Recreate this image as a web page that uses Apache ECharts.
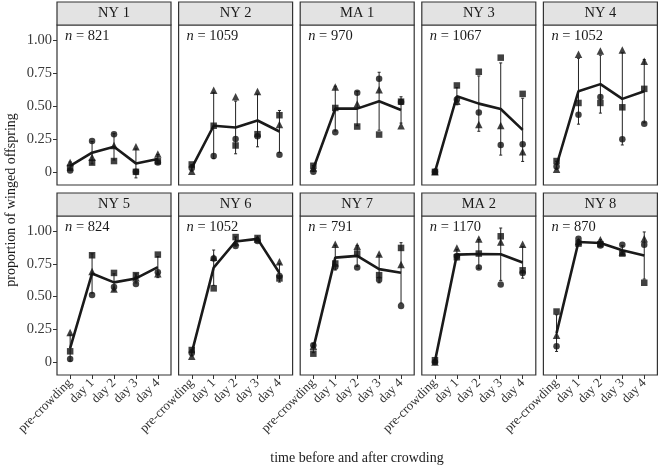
<!DOCTYPE html>
<html>
<head>
<meta charset="utf-8">
<script src="https://cdn.jsdelivr.net/npm/echarts@6/dist/echarts.min.js"></script>
<style>
html,body{margin:0;padding:0;background:#fff;}
#chart{width:659px;height:471px;}
</style>
</head>
<body>
<div id="chart"></div>
<script>
// ---- data ----
const categories = ['pre-crowding', 'day 1', 'day 2', 'day 3', 'day 4'];
const panels = ['NY 1', 'NY 2', 'MA 1', 'NY 3', 'NY 4', 'NY 5', 'NY 6', 'NY 7', 'MA 2', 'NY 8'];
const nValues = [821, 1059, 970, 1067, 1052, 824, 1052, 791, 1170, 870];
const yTicks = [0, 0.25, 0.5, 0.75, 1];
const yTickLabels = ['0', '0.25', '0.50', '0.75', '1.00'];

const circleVals = [
  [0.01, 0.235, 0.286, 0.0, 0.07],
  [0.03, 0.12, 0.25, 0.27, 0.13],
  [0.0, 0.30, 0.60, 0.707, 0.53],
  [0.0, 0.55, 0.45, 0.204, 0.21],
  [0.04, 0.434, 0.569, 0.248, 0.365],
  [0.023, 0.511, 0.572, 0.595, 0.686],
  [0.068, 0.79, 0.886, 0.924, 0.656],
  [0.127, 0.727, 0.722, 0.628, 0.428],
  [0.0, 0.81, 0.722, 0.592, 0.68],
  [0.119, 0.942, 0.89, 0.896, 0.896]
];
const squareVals = [
  [0.03, 0.07, 0.082, 0.0, 0.08],
  [0.056, 0.35, 0.20, 0.286, 0.43],
  [0.046, 0.485, 0.344, 0.283, 0.533],
  [0.0, 0.656, 0.76, 0.867, 0.592],
  [0.082, 0.523, 0.523, 0.49, 0.63],
  [0.081, 0.815, 0.68, 0.663, 0.82],
  [0.091, 0.562, 0.954, 0.947, 0.638],
  [0.063, 0.752, 0.828, 0.663, 0.871],
  [0.013, 0.80, 0.828, 0.96, 0.70],
  [0.385, 0.904, 0.90, 0.828, 0.605]
];
const triangleVals = [
  [0.07, 0.11, 0.20, 0.19, 0.135],
  [0.005, 0.62, 0.57, 0.61, 0.36],
  [0.03, 0.645, 0.516, 0.623, 0.35],
  [0.0, 0.536, 0.36, 0.352, 0.153],
  [0.02, 0.893, 0.918, 0.926, 0.84],
  [0.225, 0.69, 0.557, 0.643, 0.673],
  [0.043, 0.80, 0.916, 0.94, 0.765],
  [0.119, 0.90, 0.884, 0.825, 0.744],
  [0.0, 0.871, 0.939, 0.916, 0.90],
  [0.203, 0.92, 0.934, 0.84, 0.942]
];
const meanVals = [
  [0.045, 0.145, 0.19, 0.064, 0.097],
  [0.03, 0.35, 0.337, 0.39, 0.306],
  [0.025, 0.48, 0.48, 0.536, 0.47],
  [0.0, 0.574, 0.518, 0.477, 0.319],
  [0.05, 0.612, 0.666, 0.554, 0.612],
  [0.106, 0.676, 0.608, 0.638, 0.724],
  [0.07, 0.72, 0.92, 0.94, 0.68],
  [0.105, 0.797, 0.81, 0.709, 0.681],
  [0.005, 0.82, 0.825, 0.823, 0.76],
  [0.22, 0.916, 0.909, 0.853, 0.813]
];
const sdVals = [
  [0.03, 0.085, 0.10, 0.11, 0.035],
  [0.025, 0.25, 0.20, 0.20, 0.16],
  [0.023, 0.17, 0.13, 0.22, 0.10],
  [0.0, 0.065, 0.21, 0.35, 0.24],
  [0.03, 0.25, 0.22, 0.35, 0.24],
  [0.10, 0.15, 0.065, 0.035, 0.08],
  [0.025, 0.135, 0.035, 0.012, 0.07],
  [0.035, 0.095, 0.08, 0.105, 0.23],
  [0.008, 0.04, 0.11, 0.20, 0.12],
  [0.14, 0.02, 0.025, 0.035, 0.18]
];

// ---- layout ----
const FONT = '"Liberation Serif", "DejaVu Serif", serif';
const panelLeft0 = 57, panelStep = 121.6, panelW = 114;
const rowTop = [25, 216], rowH = [160, 159];
const stripH = 23;

const chart = echarts.init(document.getElementById('chart'), null, {renderer: 'canvas'});
const grids = [], xAxes = [], yAxes = [], series = [], graphics = [];

panels.forEach((name, i) => {
  const col = i % 5, row = Math.floor(i / 5);
  const left = panelLeft0 + col * panelStep;
  const top = rowTop[row];
  grids.push({left: left, top: top, width: panelW, height: rowH[row],
    show: true, borderColor: '#333', borderWidth: 1.2, backgroundColor: '#fff', containLabel: false});
  xAxes.push({
    type: 'value', gridIndex: i, min: -0.6, max: 4.6, position: 'bottom',
    axisLine: {show: false, onZero: false}, splitLine: {show: false},
    axisTick: {show: row === 1, length: 4, lineStyle: {color: '#333'}, customValues: [0, 1, 2, 3, 4]},
    axisLabel: {show: row === 1, rotate: 45, margin: 6, fontFamily: FONT, fontSize: 13, color: '#333',
      customValues: [0, 1, 2, 3, 4], formatter: v => categories[Math.round(v)]}
  });
  yAxes.push({
    type: 'value', gridIndex: i, min: -0.1, max: 1.115, position: 'left',
    axisLine: {show: false, onZero: false}, splitLine: {show: false},
    axisTick: {show: col === 0, length: 4, lineStyle: {color: '#333'}, customValues: yTicks},
    axisLabel: {show: col === 0, margin: 5, fontFamily: FONT, fontSize: 14.5, color: '#3a3a3a',
      customValues: yTicks, formatter: v => yTickLabels[yTicks.indexOf(v)]}
  });
  // error bars
  series.push({
    type: 'custom', xAxisIndex: i, yAxisIndex: i, z: 2, silent: true,
    data: meanVals[i].map((m, k) => [k, m - sdVals[i][k], m + sdVals[i][k]]),
    renderItem: function (params, api) {
      const x = api.value(0);
      const lo = api.coord([x, api.value(1)]);
      const hi = api.coord([x, api.value(2)]);
      const cw = 1.5;
      const st = {stroke: '#222', lineWidth: 1};
      return {type: 'group', children: [
        {type: 'line', shape: {x1: lo[0], y1: lo[1], x2: hi[0], y2: hi[1]}, style: st},
        {type: 'line', shape: {x1: lo[0] - cw, y1: lo[1], x2: lo[0] + cw, y2: lo[1]}, style: st},
        {type: 'line', shape: {x1: hi[0] - cw, y1: hi[1], x2: hi[0] + cw, y2: hi[1]}, style: st}
      ]};
    }
  });
  series.push({
    type: 'line', xAxisIndex: i, yAxisIndex: i, z: 3, silent: true,
    data: meanVals[i].map((m, k) => [k, m]), symbol: 'none',
    lineStyle: {color: '#1a1a1a', width: 2.6}
  });
  const sc = (vals, sym, size) => ({
    type: 'scatter', xAxisIndex: i, yAxisIndex: i, z: 4, silent: true,
    data: vals[i].map((v, k) => [k, v]), symbol: sym, symbolSize: size,
    itemStyle: {color: '#111'}
  });
  series.push(sc(circleVals, 'circle', 6.5));
  series.push(sc(squareVals, 'rect', 6.5));
  series.push(sc(triangleVals, 'triangle', 7.5));

  // strip
  graphics.push({type: 'rect', shape: {x: left, y: top - stripH, width: panelW, height: stripH},
    style: {fill: '#e3e3e3', stroke: '#333', lineWidth: 1.2}, z: 10});
  graphics.push({type: 'text', x: left + panelW / 2, y: top - stripH / 2,
    style: {text: name, fontFamily: FONT, fontSize: 14.5, fill: '#1a1a1a', align: 'center', verticalAlign: 'middle'}, z: 11});
  // n label
  graphics.push({type: 'text', x: left + 8, y: top + 11,
    style: {text: '{i|n} = ' + nValues[i], fontFamily: FONT, fontSize: 14.5, fill: '#1a1a1a',
      verticalAlign: 'middle', align: 'left',
      rich: {i: {fontStyle: 'italic', fontFamily: FONT, fontSize: 14.5, fill: '#1a1a1a'}}}, z: 11});
});

graphics.push({type: 'text', x: 357, y: 458,
  style: {text: 'time before and after crowding', fontFamily: FONT, fontSize: 14, fill: '#1a1a1a',
    align: 'center', verticalAlign: 'middle'}});
graphics.push({type: 'text', x: 11, y: 200, rotation: Math.PI / 2,
  style: {text: 'proportion of winged offspring', fontFamily: FONT, fontSize: 14, fill: '#1a1a1a',
    align: 'center', verticalAlign: 'middle'}});

chart.setOption({
  animation: false,
  backgroundColor: '#fff',
  grid: grids, xAxis: xAxes, yAxis: yAxes, series: series,
  graphic: graphics
});
</script>
</body>
</html>
